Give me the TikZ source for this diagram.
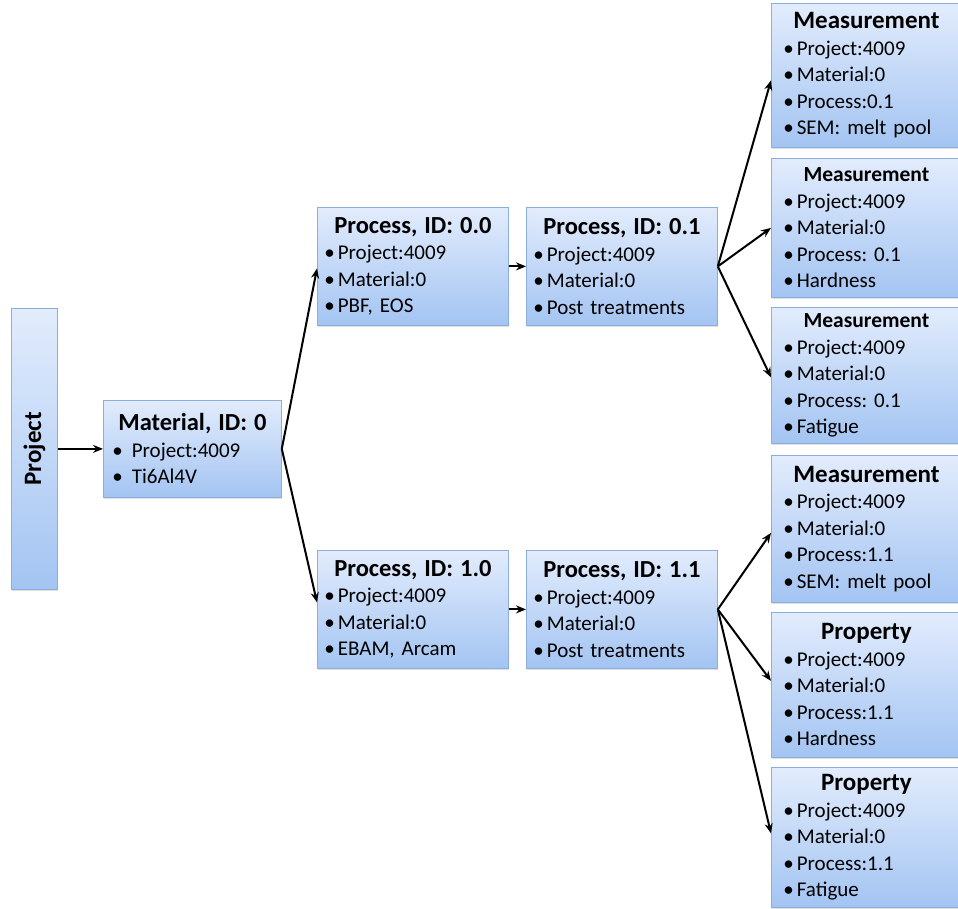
\documentclass[tikz,border=0pt]{standalone}
\usepackage{fontspec}
\setmainfont{Carlito}[WordSpace=0.85]
\frenchspacing
\usetikzlibrary{arrows.meta,shadows}
\definecolor{boxtop}{RGB}{226,236,252}
\definecolor{boxbot}{RGB}{163,196,242}
\definecolor{boxline}{RGB}{140,174,222}
\newcommand\ttlbig{\fontsize{25}{29}\selectfont\bfseries}
\newcommand\ttlmid{\fontsize{24.5}{28.5}\selectfont\bfseries}
\newcommand\ttlsmall{\fontsize{21.5}{26}\selectfont\bfseries}
\newcommand\bodyfont{\fontsize{21}{26.5}\selectfont\frenchspacing}
\newcommand\bl{•\hspace{3pt}}
\tikzset{
  box/.style={draw=boxline, line width=0.8pt, top color=boxtop, bottom color=boxbot,
    anchor=north west, align=left, inner ysep=0pt, font=\bodyfont,
    drop shadow={shadow xshift=1pt, shadow yshift=-1.5pt, opacity=0.25}},
  link/.style={draw=black, line width=2pt, -{Stealth[length=10pt,width=8pt]}}
}
\begin{document}
\begin{tikzpicture}[x=1pt,y=-1pt]
\useasboundingbox[fill=white] (0,0) rectangle (958,909);
% project
\node[box, inner sep=0pt, minimum width=46pt, minimum height=281pt] (proj) at (11,308)
  {\rotatebox{90}{\ttlbig Project}};
% material
\node[box, inner xsep=9pt, text width=160pt, minimum height=97pt] (mat) at (103,400)
  {{\centering\ttlmid Material, ID: 0\par}
   \bl\hspace{6pt}Project:4009\\ \bl\hspace{6pt}Ti6Al4V};
% processes
\node[box, inner xsep=7pt, text width=177pt, minimum height=118pt] (p00) at (317,207)
  {{\centering\ttlmid Process, ID: 0.0\par}
   \bl Project:4009\\ \bl Material:0\\ \bl PBF, EOS};
\node[box, inner xsep=7pt, text width=177pt, minimum height=118pt] (p01) at (526,207)
  {{\centering\ttlmid Process, ID: 0.1\par}
   \bl Project:4009\\ \bl Material:0\\ \bl Post treatments};
\node[box, inner xsep=7pt, text width=177pt, minimum height=118pt] (p10) at (317,550)
  {{\centering\ttlmid Process, ID: 1.0\par}
   \bl Project:4009\\ \bl Material:0\\ \bl EBAM, Arcam};
\node[box, inner xsep=7pt, text width=177pt, minimum height=118pt] (p11) at (526,550)
  {{\centering\ttlmid Process, ID: 1.1\par}
   \bl Project:4009\\ \bl Material:0\\ \bl Post treatments};
% right column
\node[box, inner xsep=12pt, text width=166pt, minimum height=144pt] (m1) at (771,3)
  {{\centering\ttlbig Measurement\par}
   \bl Project:4009\\ \bl Material:0\\ \bl Process:0.1\\ \bl SEM: melt pool};
\node[box, inner xsep=12pt, text width=166pt, minimum height=139pt] (m2) at (771,158)
  {{\centering\ttlsmall Measurement\par}
   \bl Project:4009\\ \bl Material:0\\ \bl Process: 0.1\\ \bl Hardness};
\node[box, inner xsep=12pt, text width=166pt, minimum height=136pt] (m3) at (771,307)
  {{\centering\ttlsmall Measurement\par}
   \bl Project:4009\\ \bl Material:0\\ \bl Process: 0.1\\ \bl Fatigue};
\node[box, inner xsep=12pt, text width=166pt, minimum height=147pt] (m4) at (771,455)
  {{\centering\ttlbig Measurement\par}
   \bl Project:4009\\ \bl Material:0\\ \bl Process:1.1\\ \bl SEM: melt pool};
\node[box, inner xsep=12pt, text width=166pt, minimum height=145pt] (m5) at (771,612)
  {{\centering\ttlbig Property\par}
   \bl Project:4009\\ \bl Material:0\\ \bl Process:1.1\\ \bl Hardness};
\node[box, inner xsep=12pt, text width=166pt, minimum height=140pt] (m6) at (771,767)
  {{\centering\ttlbig Property\par}
   \bl Project:4009\\ \bl Material:0\\ \bl Process:1.1\\ \bl Fatigue};
% connectors
\draw[link] (proj.east) -- (mat.west);
\draw[link] (mat.east) -- ([yshift=-2pt]p00.west);
\draw[link] (mat.east) -- ([yshift=7pt]p10.west);
\draw[link] (p00.east) -- (p01.west);
\draw[link] (p10.east) -- (p11.west);
\draw[link] (p01.east) -- ([yshift=-5pt]m1.west);
\draw[link] (p01.east) -- (m2.west);
\draw[link] (p01.east) -- ([yshift=-2pt]m3.west);
\draw[link] (p11.east) -- ([yshift=-4pt]m4.west);
\draw[link] (p11.east) -- ([yshift=4pt]m5.west);
\draw[link] (p11.east) -- ([yshift=4pt]m6.west);
\end{tikzpicture}
\end{document}
